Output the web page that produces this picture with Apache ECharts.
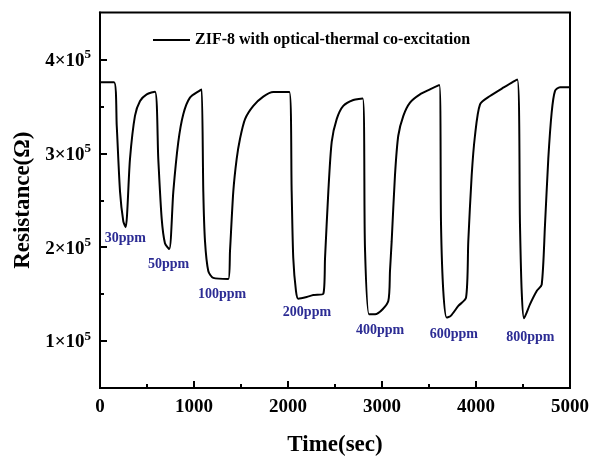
<!DOCTYPE html>
<html>
<head>
<meta charset="utf-8">
<script src="https://cdn.jsdelivr.net/npm/echarts@6/dist/echarts.min.js"></script>
<style>
html,body{margin:0;padding:0;background:#fff;}
#chart{width:601px;height:462px;}
</style>
</head>
<body>
<div id="chart"></div>
<script>
// ---- data ----
var seriesName = 'ZIF-8 with optical-thermal co-excitation';
var timeSec = [0,149,178,213,248,273,319,372,426,497,585,
  620,656,691,737,780,833,886,957,1064,1082,
  1099,1117,1152,1205,1365,1383,1418,1454,1489,1543,1631,1737,1844,2014,
  2039,2056,2085,2110,2199,2269,2376,2394,2429,2465,2518,2588,2695,2795,
  2819,2862,2926,3067,3085,3103,3138,3173,3227,3298,3404,3511,3610,
  3628,3652,3688,3731,3812,3894,3918,3954,3989,4043,4149,4290,4439,
  4468,4486,4511,4574,4646,4699,4734,4769,4805,4840,4894,5000];
var resistance = [375800,375800,329300,259200,227500,221200,294100,339900,355700,362800,365700,
  294100,230700,204300,198000,259200,312100,341700,359300,367000,368100,
  259200,206400,174700,167300,166200,195800,259200,294100,315300,336400,350500,360400,365200,365200,
  259200,188400,153300,145100,146900,149000,150400,188400,259200,312100,336400,350500,356800,358300,
  199000,128500,128500,142700,174700,206400,276500,318700,339900,354000,362800,368100,372900,
  223600,153300,125000,126800,137400,146200,206400,276500,318700,352200,361000,369900,378700,
  223600,153300,124300,139100,153300,160200,223600,294100,343500,366300,370500,370500];
var annoText = ['30ppm','50ppm','100ppm','200ppm','400ppm','600ppm','800ppm'];
var annoTime = [270,729,1298,2202,2979,3764,4578];
var annoRes  = [209600,181400,149600,130300,111000,106700,103900];
var yMajorTicks = [100000,200000,300000,400000];
var yMinorTicks = [150000,250000,350000];
var xMin = 0, xMax = 5000, xStep = 1000;
var yMin = 50000, yMax = 450000;

// ---- build ----
var FONT = '"Liberation Serif","Times New Roman",serif';
var lineData = timeSec.map(function(t,i){return [t,resistance[i]];});
var annoData = annoTime.map(function(t,i){return {value:[t,annoRes[i]], name:annoText[i]};});

var chart = echarts.init(document.getElementById('chart'), null, {renderer:'canvas'});
chart.setOption({
  backgroundColor:'#fff',
  animation:false,
  grid:{left:100,right:31,top:12.5,bottom:71,show:true,borderColor:'#000',borderWidth:2,backgroundColor:'transparent'},
  legend:{
    data:[seriesName],
    left:148, top:27,
    icon:'rect', itemWidth:37, itemHeight:2,
    textStyle:{fontFamily:FONT,fontWeight:'bold',fontSize:16,color:'#000'}
  },
  xAxis:{
    type:'value', min:xMin, max:xMax, interval:xStep,
    axisLine:{show:true,lineStyle:{color:'#000',width:2}},
    axisTick:{show:true,inside:true,length:7,lineStyle:{color:'#000',width:2}},
    minorTick:{show:true,splitNumber:2,length:4,lineStyle:{color:'#000',width:2}},
    splitLine:{show:false},
    axisLabel:{fontFamily:FONT,fontWeight:'bold',fontSize:19,color:'#000',margin:10,
      formatter:function(v){return String(v);}},
    name:'Time(sec)', nameLocation:'middle', nameGap:46,
    nameTextStyle:{fontFamily:FONT,fontWeight:'bold',fontSize:23,color:'#000'}
  },
  yAxis:[{
    type:'value', min:yMin, max:yMax,
    axisLine:{show:true,lineStyle:{color:'#000',width:2}},
    axisTick:{show:true,inside:true,length:7,customValues:yMajorTicks,lineStyle:{color:'#000',width:2}},
    splitLine:{show:false},
    axisLabel:{
      customValues:yMajorTicks, margin:9,
      formatter:function(v){return '{b|'+Math.round(v/100000)+'×10}{s|5}';},
      rich:{
        b:{fontFamily:FONT,fontWeight:'bold',fontSize:19,color:'#000',lineHeight:22,verticalAlign:'bottom'},
        s:{fontFamily:FONT,fontWeight:'bold',fontSize:13,color:'#000',lineHeight:22,verticalAlign:'top',padding:[0,0,8,0]}
      }
    },
    name:'Resistance(Ω)', nameLocation:'middle', nameGap:56,
    nameTextStyle:{fontFamily:FONT,fontWeight:'bold',fontSize:23,color:'#000'}
  },{
    type:'value', min:yMin, max:yMax, position:'left',
    axisLine:{show:false},
    axisTick:{show:true,inside:true,length:4,customValues:yMinorTicks,lineStyle:{color:'#000',width:2}},
    axisLabel:{show:false},
    splitLine:{show:false}
  }],
  series:[{
    name:seriesName, type:'line', data:lineData, showSymbol:false, symbol:'none',
    smooth:0.25,
    lineStyle:{color:'#000',width:2}, itemStyle:{color:'#000'}, z:3
  },{
    name:'labels', type:'scatter', data:annoData, symbolSize:0, silent:true,
    itemStyle:{opacity:1},
    label:{show:true,position:'inside',formatter:'{b}',fontFamily:FONT,fontWeight:'bold',fontSize:14,color:'#2c2c94',opacity:1}
  }]
});
</script>
</body>
</html>
